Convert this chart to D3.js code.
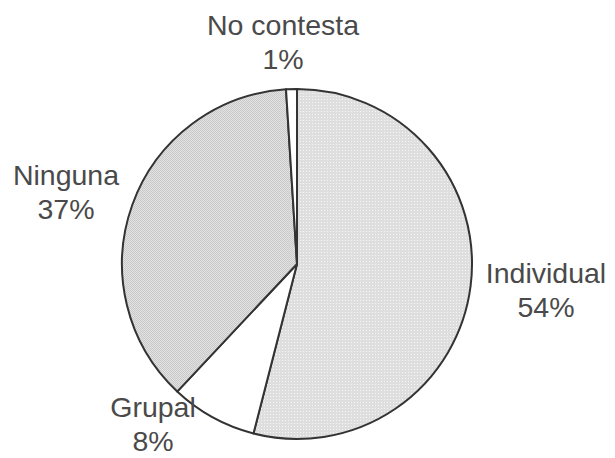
<!DOCTYPE html>
<meta charset="utf-8">
<title>Pie Chart</title>
<script src="https://cdn.jsdelivr.net/npm/d3@7"></script>
<style>
  body { margin: 0; background: #fff; }
  text { font-family: "Liberation Sans", Arial, sans-serif; font-size: 28.5px; fill: #4a4a4a; }
</style>
<div id="chart"></div>
<script>
  // data
  var categories = ["Individual", "Grupal", "Ninguna", "No contesta"];
  var values = [54, 8, 37, 1];
  var labels = ["54%", "8%", "37%", "1%"];

  var width = 615, height = 458;
  var cx = 297, cy = 264, radius = 175;

  // where each label sits (centre x, first baseline)
  var labelPos = [[546, 283], [153, 417], [66, 185], [283, 35]];

  var svg = d3.select("#chart").append("svg")
    .attr("width", width)
    .attr("height", height);

  var defs = svg.append("defs");

  // light dotted fill
  var p1 = defs.append("pattern").attr("id", "dots")
    .attr("width", 3).attr("height", 3).attr("patternUnits", "userSpaceOnUse");
  p1.append("rect").attr("width", 3).attr("height", 3).attr("fill", "#dedede");
  p1.append("rect").attr("width", 1).attr("height", 1).attr("fill", "#f6f6f6");

  // darker fine checker fill
  var p2 = defs.append("pattern").attr("id", "checker")
    .attr("width", 2).attr("height", 2).attr("patternUnits", "userSpaceOnUse");
  p2.append("rect").attr("width", 2).attr("height", 2).attr("fill", "#c9c9c9");
  p2.append("rect").attr("width", 1).attr("height", 1).attr("fill", "#e2e2e2");
  p2.append("rect").attr("x", 1).attr("y", 1).attr("width", 1).attr("height", 1).attr("fill", "#e2e2e2");

  var fills = d3.scaleOrdinal()
    .domain(categories)
    .range(["url(#dots)", "#ffffff", "url(#checker)", "#ffffff"]);

  var pie = d3.pie().sort(null).value(function (d) { return d.value; });
  var arc = d3.arc().innerRadius(0).outerRadius(radius);

  var data = categories.map(function (c, i) { return { name: c, value: values[i] }; });

  var g = svg.append("g").attr("transform", "translate(" + cx + "," + cy + ")");

  g.selectAll("path")
    .data(pie(data))
    .enter()
    .append("path")
    .attr("d", arc)
    .attr("fill", function (d) { return fills(d.data.name); })
    .attr("stroke", "#333")
    .attr("stroke-width", 2)
    .attr("stroke-linejoin", "round");

  var lbl = svg.selectAll(".lbl")
    .data(data)
    .enter()
    .append("text")
    .attr("class", "lbl")
    .attr("text-anchor", "middle");

  lbl.append("tspan")
    .attr("x", function (d, i) { return labelPos[i][0]; })
    .attr("y", function (d, i) { return labelPos[i][1]; })
    .text(function (d) { return d.name; });

  lbl.append("tspan")
    .attr("x", function (d, i) { return labelPos[i][0]; })
    .attr("y", function (d, i) { return labelPos[i][1] + 34; })
    .text(function (d, i) { return labels[i]; });
</script>
